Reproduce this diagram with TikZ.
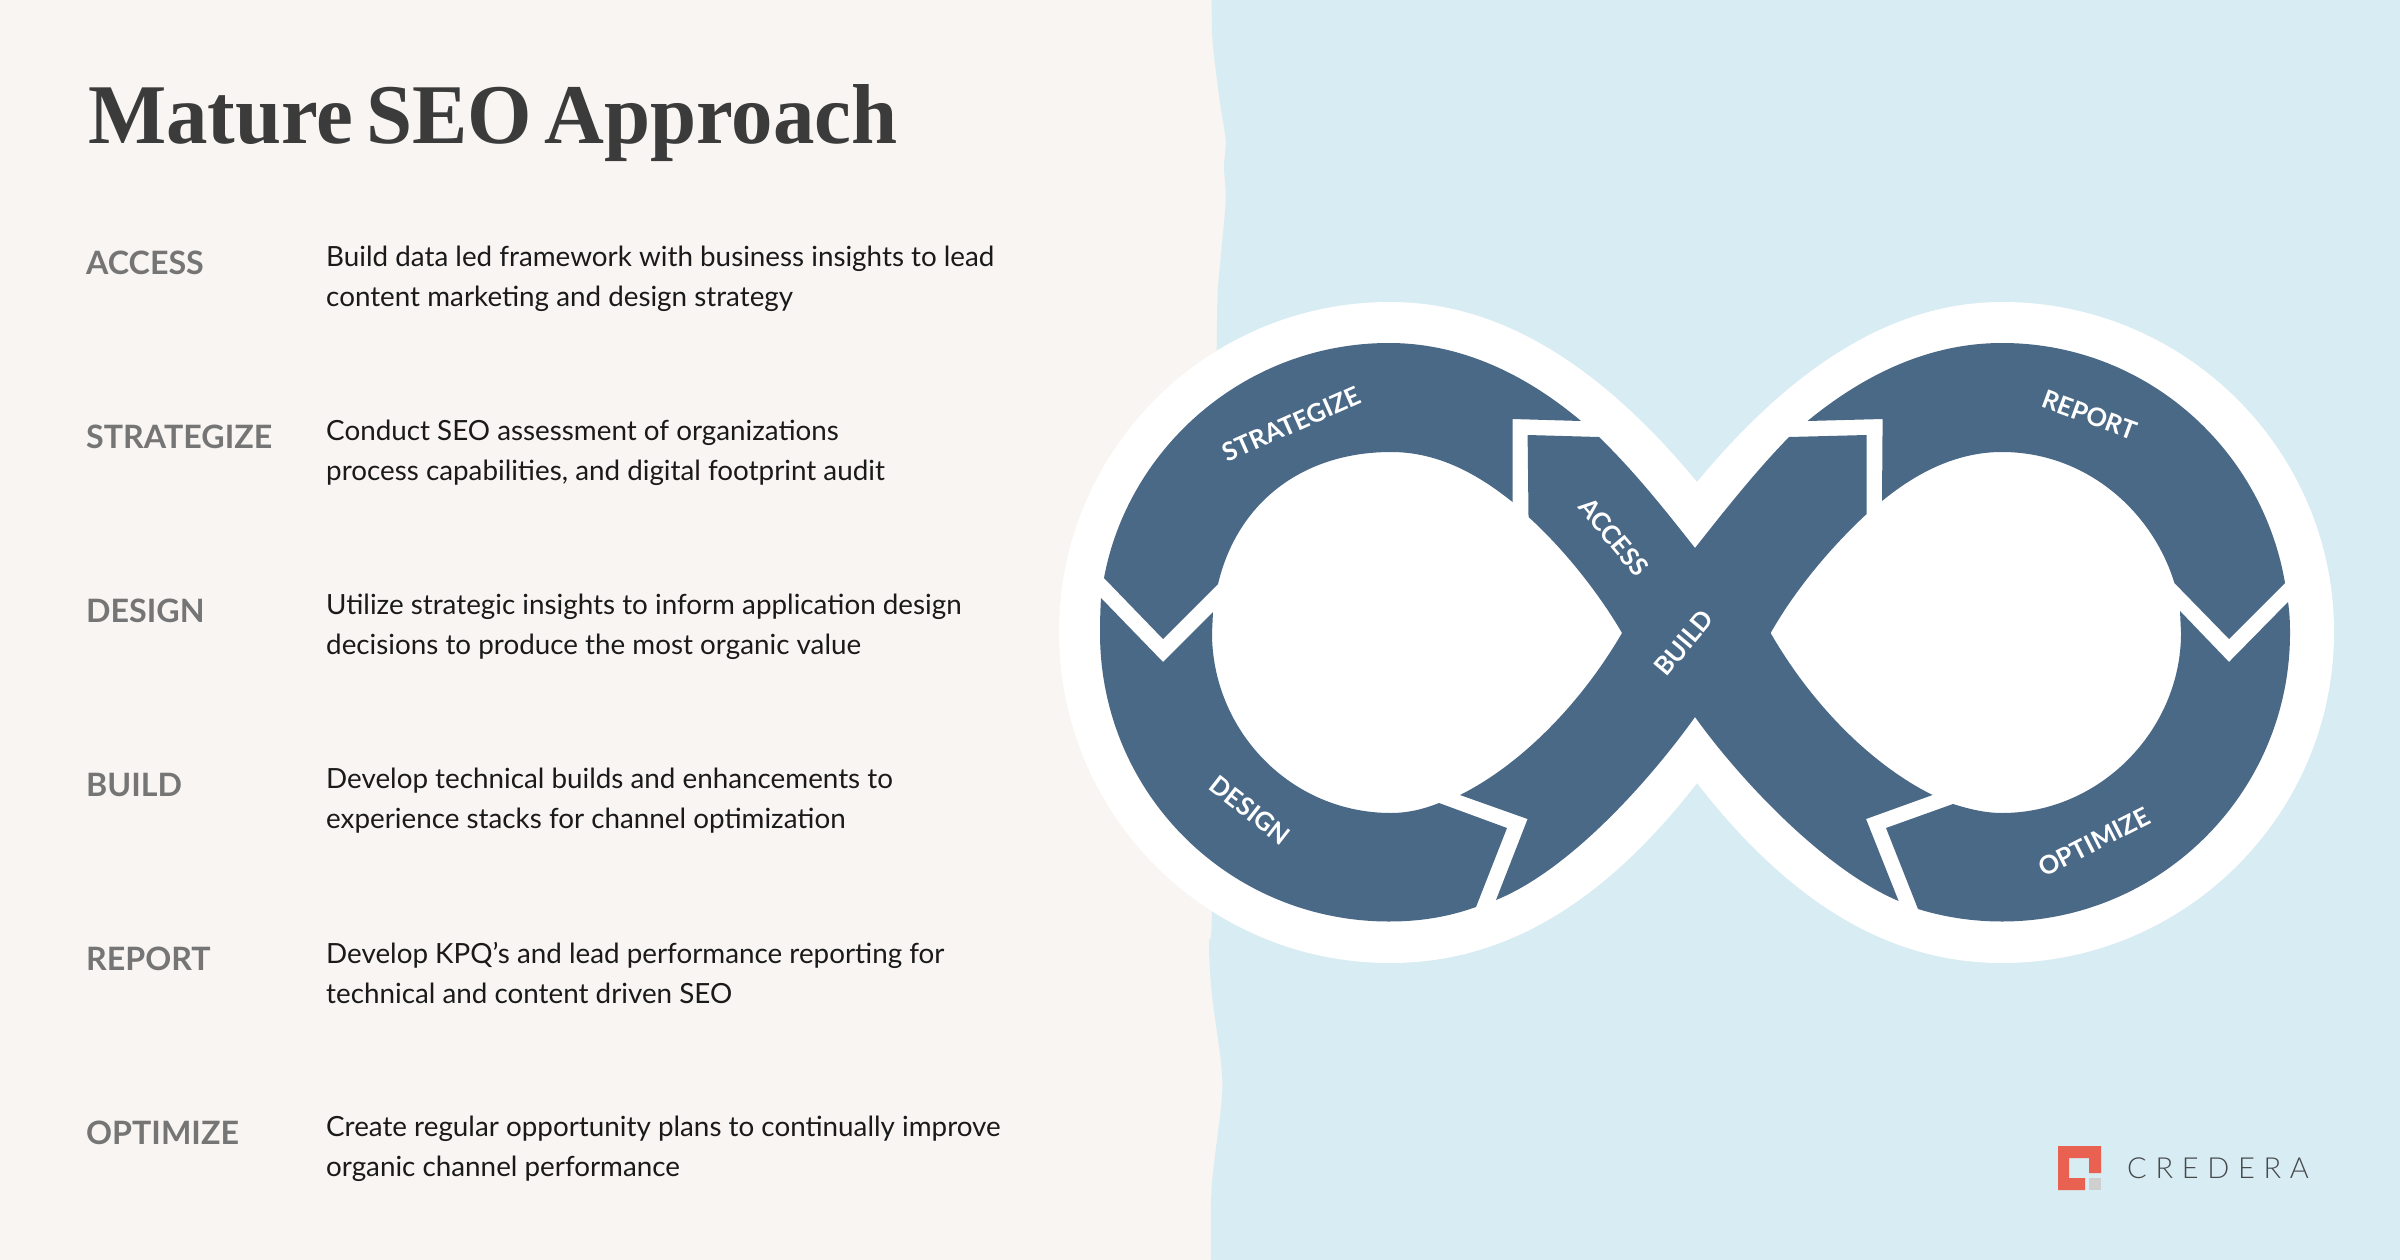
\documentclass[tikz,border=0pt]{standalone}
\usepackage{fontspec}
\usepackage{xcolor}
\usepackage{tikz}
\setmainfont{Lato}
\newfontfamily\titlefont[FakeStretch=0.975,WordSpace=0.6]{Liberation Serif}
\newfontfamily\logofont[LetterSpace=30]{Lato Light}
\usetikzlibrary{positioning}
\definecolor{paper}{RGB}{248,245,242}
\definecolor{sky}{RGB}{216,236,243}
\definecolor{loopblue}{RGB}{74,105,135}
\definecolor{titleink}{RGB}{59,59,59}
\definecolor{labelgray}{RGB}{117,117,117}
\definecolor{bodyink}{RGB}{26,26,26}
\definecolor{logored}{RGB}{233,97,80}
\definecolor{logogray}{RGB}{207,207,207}
\definecolor{logoink}{RGB}{70,72,74}
\tikzset{
  segment/.style={fill=loopblue, draw=none},
  looplabel/.style={font=\fontsize{25.5}{25.5}\selectfont\bfseries, text=white, inner sep=0pt},
  steplabel/.style={font=\fontsize{32.2}{33}\selectfont\bfseries, text=labelgray, inner sep=0pt},
  stepdesc/.style={font=\fontsize{27.8}{40}\selectfont, text=bodyink, inner sep=0pt, align=left},
}
\begin{document}
\begin{tikzpicture}[x=1pt,y=-1pt]
  \useasboundingbox (0,0) rectangle (2400,1260);
  \fill[paper] (0,0) rectangle (2400,1260);
  % wavy edge of the right panel
  \fill[sky] plot[smooth, tension=0.5] coordinates {(1211.7,0) (1212.7,43) (1220,103) (1225.7,140)
      (1224,167) (1225.7,200) (1221.7,247) (1217.7,293) (1216.7,350) (1214,630) (1212,911) (1209,943)
      (1211.7,993) (1221,1063) (1221.7,1100) (1211.7,1187) (1211,1260)}
    -- (2400,1260) -- (2400,0) -- cycle;
  % white halo
  \fill[white] (1059,632) .. controls (1059,450) and (1207,302) .. (1390,302)
    .. controls (1500,302) and (1600,365) .. (1697,482)
    .. controls (1794,365) and (1894,302) .. (2002,302)
    .. controls (2185,302) and (2334,450) .. (2334,632)
    .. controls (2334,815) and (2185,963) .. (2002,963)
    .. controls (1894,963) and (1794,908) .. (1697,783)
    .. controls (1600,908) and (1500,963) .. (1390,963)
    .. controls (1207,963) and (1059,815) .. (1059,632) -- cycle;
  % strategize
  \fill[segment] (1104,578) .. controls (1128,448) and (1245,343) .. (1389,343)
    .. controls (1465,343) and (1530,378) .. (1581,421) -- (1512.5,419) -- (1512.5,502)
    .. controls (1480,476) and (1440,452) .. (1391,452)
    .. controls (1305,452) and (1238,500) .. (1218,584) -- (1163,639) -- cycle;
  % design
  \fill[segment] (1101,598) .. controls (1100.3,610) and (1100,621) .. (1100,633)
    .. controls (1100,793) and (1229,921.5) .. (1389,921.5)
    .. controls (1420,921.5) and (1448,917) .. (1476,907) -- (1507,828) -- (1439,803)
    .. controls (1424,809) and (1408,813) .. (1391,813)
    .. controls (1290,813) and (1212,730) .. (1212,633)
    -- (1213,612) -- (1163,662) -- cycle;
  % access and build
  \fill[segment] (1527.6,435) -- (1599,437) .. controls (1635,472) and (1665,510) .. (1695,548)
    .. controls (1725,510) and (1755,472) .. (1789,437) -- (1866.6,435) -- (1866.6,514)
    .. controls (1830,548) and (1795,590) .. (1770.6,633)
    .. controls (1812,705) and (1872,765) .. (1932.5,795)
    -- (1866,819) -- (1898.6,901)
    .. controls (1825,870) and (1740,780) .. (1695,717)
    .. controls (1650,780) and (1570,870) .. (1496,900)
    -- (1527.6,819) -- (1460,795)
    .. controls (1520,765) and (1580,705) .. (1622,633)
    .. controls (1600,595) and (1565,550) .. (1528.5,517) -- cycle;
  % report
  \fill[segment] (1807.5,421) -- (1882.6,419) -- (1882,501)
    .. controls (1915,474) and (1955,452) .. (2002,452)
    .. controls (2085,452) and (2152,510) .. (2174.4,583)
    -- (2229,639) -- (2285,583)
    .. controls (2262,448) and (2145,343) .. (2002,343)
    .. controls (1925,343) and (1860,378) .. (1807.5,421) -- cycle;
  % optimize
  \fill[segment] (2288,602) .. controls (2289.5,612) and (2290,622) .. (2290,633)
    .. controls (2290,793) and (2160,921.5) .. (2002,921.5)
    .. controls (1972,921.5) and (1944,917) .. (1918,909)
    -- (1886,828) -- (1953,804)
    .. controls (1969,809) and (1985,813) .. (2002,813)
    .. controls (2100,813) and (2181,730) .. (2181,633)
    -- (2180,611) -- (2229,662) -- cycle;
  \node[looplabel, rotate=24] (lstrategize) at (1291.5,424) {STRATEGIZE};
  \node[looplabel, rotate=-50] (laccess) at (1614,537) {ACCESS};
  \node[looplabel, rotate=50] (lbuild) at (1684,643) {BUILD};
  \node[looplabel, rotate=-38] (ldesign) at (1250,810) {DESIGN};
  \node[looplabel, rotate=-20] (lreport) at (2090,415) {REPORT};
  \node[looplabel, rotate=27] (loptimize) at (2094,842) {OPTIMIZE};
  % left column
  \node[anchor=west, inner sep=0pt, text=titleink, font=\titlefont\bfseries\fontsize{85}{85}\selectfont] (title) at (88,123) {Mature SEO Approach};
  \node[steplabel, anchor=west] (access) at (86,262.5) {ACCESS};
  \node[steplabel, below=174pt of access.west, anchor=west] (strategize) {STRATEGIZE};
  \node[steplabel, below=174pt of strategize.west, anchor=west] (design) {DESIGN};
  \node[steplabel, below=174pt of design.west, anchor=west] (build) {BUILD};
  \node[steplabel, below=174pt of build.west, anchor=west] (report) {REPORT};
  \node[steplabel, below=174pt of report.west, anchor=west] (optimize) {OPTIMIZE};
  \node[stepdesc, anchor=west] (daccess) at (326,279) {Build data led framework with business insights to lead\\content marketing and design strategy};
  \node[stepdesc, below=174pt of daccess.west, anchor=west] (dstrategize) {Conduct SEO assessment of organizations\\process capabilities, and digital footprint audit};
  \node[stepdesc, below=174pt of dstrategize.west, anchor=west] (ddesign) {Utilize strategic insights to inform application design\\decisions to produce the most organic value};
  \node[stepdesc, below=174pt of ddesign.west, anchor=west] (dbuild) {Develop technical builds and enhancements to\\experience stacks for channel optimization};
  \node[stepdesc, below=174pt of dbuild.west, anchor=west] (dreport) {Develop KPQ’s and lead performance reporting for\\technical and content driven SEO\vphantom{g}};
  \node[stepdesc, below=174pt of dreport.west, anchor=west] (doptimize) {Create regular opportunity plans to continually improve\\organic channel performance};
  % logo
  \fill[logored] (2058,1146) -- (2101,1146) -- (2101,1173) -- (2089,1173) -- (2089,1158) -- (2069,1158)
    -- (2069,1178) -- (2085,1178) -- (2085,1190) -- (2058,1190) -- cycle;
  \fill[logogray] (2089,1178) rectangle (2101,1190);
  \node[anchor=west, inner sep=0pt, text=logoink, font=\logofont\fontsize{29}{29}\selectfont] (logotext) at (2127,1168) {CREDERA};
\end{tikzpicture}
\end{document}
